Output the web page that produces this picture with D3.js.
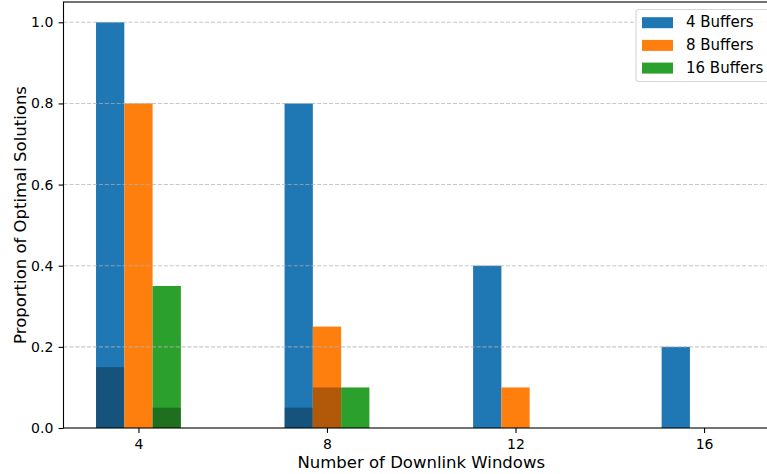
<!DOCTYPE html>
<html><head><meta charset="utf-8">
<script src="https://cdn.jsdelivr.net/npm/d3@7"></script>
<style>body{margin:0;background:#fff;} svg{display:block;font-family:"DejaVu Sans",sans-serif;}</style>
</head><body>
<svg id="chart" width="767" height="474"></svg>
<script>
const categories = ["4", "8", "12", "16"];
const seriesNames = ["4 Buffers", "8 Buffers", "16 Buffers"];
const buffers4 = [1.0, 0.8, 0.4, 0.2];
const buffers8 = [0.8, 0.25, 0.1, 0.0];
const buffers16 = [0.35, 0.1, 0.0, 0.0];
const dark4 = [0.15, 0.05, 0.0, 0.0];
const dark8 = [0.0, 0.1, 0.0, 0.0];
const dark16 = [0.05, 0.0, 0.0, 0.0];
const yTicks = [0.0, 0.2, 0.4, 0.6, 0.8, 1.0];
const colors = ["#1f77b4", "#ff7f0e", "#2ca02c"];

(function () {
const series = [buffers4, buffers8, buffers16];
const darks = [dark4, dark8, dark16];

const svg = d3.select("#chart");
const mLeft = 63.5, mTop = 2, mBottom = 428, mRight = 779;
const barW = 0.15;
const x = d3.scaleLinear().domain([-0.3975, 3.3975]).range([mLeft, mRight]);
const y = d3.scaleLinear().domain([0, 1.05]).range([mBottom, mTop]);

series.forEach((vals, s) => {
  const off = (s - 1) * barW;
  svg.append("g").selectAll("rect").data(vals).join("rect")
    .attr("x", (d, i) => x(i + off - barW / 2))
    .attr("width", x(barW) - x(0))
    .attr("y", d => y(d))
    .attr("height", d => y(0) - y(d))
    .attr("fill", colors[s]);
  svg.append("g").selectAll("rect").data(darks[s]).join("rect")
    .attr("x", (d, i) => x(i + off - barW / 2))
    .attr("width", x(barW) - x(0))
    .attr("y", d => y(d))
    .attr("height", d => y(0) - y(d))
    .attr("fill", "#000").attr("fill-opacity", 0.3);
});

svg.append("g").selectAll("line").data(yTicks.slice(1)).join("line")
  .attr("x1", mLeft).attr("x2", mRight)
  .attr("y1", d => y(d)).attr("y2", d => y(d))
  .attr("stroke", "#b0b0b0").attr("stroke-opacity", 0.7)
  .attr("stroke-width", 1.1).attr("stroke-dasharray", "4.1,1.8");

const yAxis = d3.axisLeft(y).tickValues(yTicks).tickFormat(d3.format(".1f")).tickSize(4.9).tickPadding(5.3);
const gy = svg.append("g").attr("transform", `translate(${mLeft},0)`).call(yAxis);
const xAxis = d3.axisBottom(x).tickValues([0, 1, 2, 3]).tickFormat(i => categories[i]).tickSize(4.9).tickPadding(6.2);
const gx = svg.append("g").attr("transform", `translate(0,${mBottom})`).call(xAxis);
[gx, gy].forEach(g => {
  g.select(".domain").remove();
  g.selectAll(".tick line").attr("stroke", "#000").attr("stroke-width", 1.1);
  g.selectAll("text").attr("font-size", 14).attr("fill", "#000").attr("font-family", "DejaVu Sans");
});

svg.append("rect").attr("x", mLeft).attr("y", mTop).attr("width", mRight - mLeft).attr("height", mBottom - mTop)
  .attr("fill", "none").attr("stroke", "#000").attr("stroke-width", 1.1);

svg.append("text").attr("x", (mLeft + mRight) / 2).attr("y", 468.3).attr("text-anchor", "middle")
  .attr("font-size", 16.5).text("Number of Downlink Windows");
svg.append("text").attr("transform", `translate(25.5,${(mTop + mBottom) / 2}) rotate(-90)`).attr("text-anchor", "middle")
  .attr("font-size", 16.5).text("Proportion of Optimal Solutions");

const lg = svg.append("g");
lg.append("rect").attr("x", 636).attr("y", 9.5).attr("width", 135).attr("height", 72).attr("rx", 2.5)
  .attr("fill", "#fff").attr("fill-opacity", 0.8).attr("stroke", "#d6d6d6").attr("stroke-width", 1.1);
seriesNames.forEach((n, s) => {
  const cy = 22.7 + s * 22.7;
  lg.append("rect").attr("x", 642).attr("y", cy - 5.5).attr("width", 31).attr("height", 11).attr("fill", colors[s]);
  lg.append("text").attr("x", 686).attr("y", cy + 4.7).attr("font-size", 15).text(n);
});
})();
</script>
</body></html>
